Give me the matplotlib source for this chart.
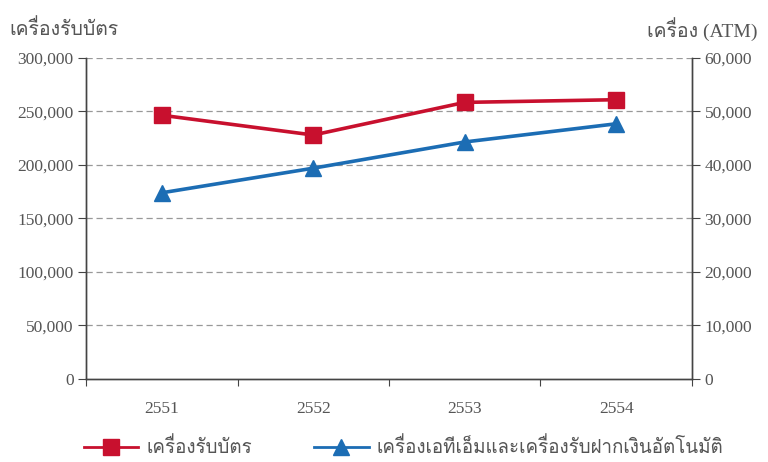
import matplotlib
matplotlib.use("Agg")
import matplotlib.pyplot as plt
from matplotlib import font_manager
from matplotlib.ft2font import FT2Font
from matplotlib.ticker import FuncFormatter

# data
years = ["2551", "2552", "2553", "2554"]
card_machines = [246500, 228000, 258500, 261000]   # left axis
atm_machines = [34800, 39400, 44300, 47700]        # right axis

left_label = "เครื่องรับบัตร"
right_label = "เครื่อง (ATM)"
legend_labels = ["เครื่องรับบัตร", "เครื่องเอทีเอ็มและเครื่องรับฝากเงินอัตโนมัติ"]


def find_thai_font():
    for f in font_manager.fontManager.ttflist:
        try:
            if 0x0E01 in FT2Font(f.fname).get_charmap():
                return f.name
        except Exception:
            pass
    return None


thai = find_thai_font()
fam = ["Liberation Serif"] + ([thai] if thai else []) + ["DejaVu Sans"]
num_fam = ["Liberation Serif", "DejaVu Serif"]

red = "#c8102e"
blue = "#1c6db4"
grey = "#555555"

fig = plt.figure(figsize=(7.68, 4.62), dpi=100)
ax = fig.add_axes([0.112, 0.1797, 0.789, 0.6948])
ax2 = ax.twinx()

x = range(len(years))
ax.plot(x, card_machines, color=red, lw=2.6, marker="s", ms=11, zorder=3)
ax2.plot(x, atm_machines, color=blue, lw=2.6, marker="^", ms=12, zorder=3)

ax.set_xlim(-0.5, 3.5)
ax.set_ylim(0, 300000)
ax2.set_ylim(0, 60000)
ax.set_yticks(range(0, 300001, 50000))
ax2.set_yticks(range(0, 60001, 10000))

fmt = FuncFormatter(lambda v, p: f"{int(v):,}")
ax.yaxis.set_major_formatter(fmt)
ax2.yaxis.set_major_formatter(fmt)

for y in range(50000, 300001, 50000):
    ax.axhline(y, color="#999999", lw=0.9, ls=(0, (5, 3)), zorder=1)

ax.set_xticks([-0.5, 0.5, 1.5, 2.5, 3.5])
ax.set_xticklabels([])
ax.set_xticks(list(x), minor=True)
ax.set_xticklabels(years, minor=True)
ax.tick_params(axis="x", which="major", length=5, color="#444444", direction="out")
ax.tick_params(axis="x", which="minor", length=0, pad=16, labelcolor=grey)
ax.tick_params(axis="y", length=6, color="#444444", labelcolor=grey, pad=3)
ax2.tick_params(axis="y", length=6, color="#444444", labelcolor=grey, pad=3)

for a in (ax, ax2):
    a.spines["top"].set_visible(False)
    for s in ("left", "right", "bottom"):
        a.spines[s].set_color("#444444")
        a.spines[s].set_linewidth(1.0)
    for lab in a.get_yticklabels() + a.get_xticklabels(minor=True):
        lab.set_family(num_fam)
        lab.set_fontsize(12.5)

fig.text(0.012, 0.937, left_label, family=fam, fontsize=14, color=grey, va="center")
fig.text(0.986, 0.937, right_label, family=fam, fontsize=14, color=grey,
         va="center", ha="right")

h1 = plt.Line2D([], [], color=red, lw=2, marker="s", ms=11)
h2 = plt.Line2D([], [], color=blue, lw=2, marker="^", ms=12)
fig.legend([h1, h2], legend_labels, loc="center left", bbox_to_anchor=(0.087, 0.032),
           ncol=2, frameon=False, handlelength=2.9, handletextpad=0.45,
           columnspacing=3.3, prop={"family": fam, "size": 13.5}, labelcolor=grey)

fig.savefig("out.png", dpi=100)
